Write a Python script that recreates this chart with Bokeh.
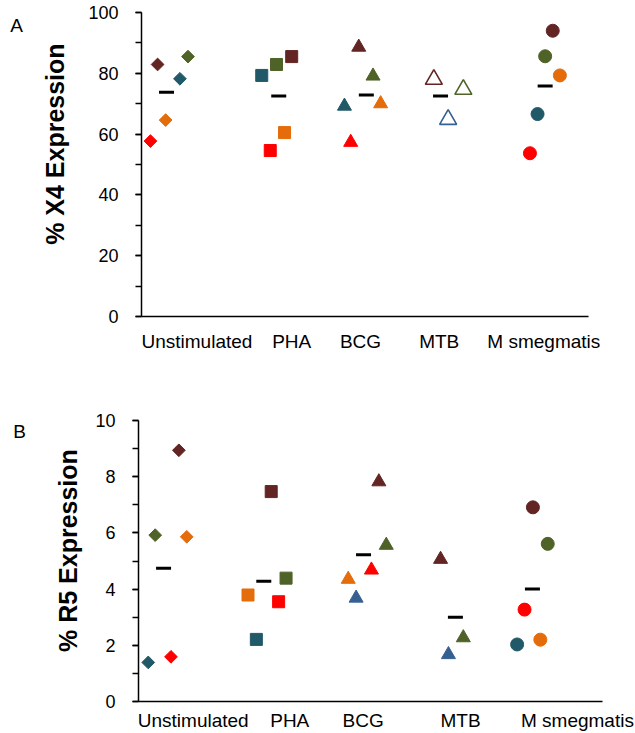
import numpy as np
from bokeh.plotting import figure
from bokeh.layouts import column, row
from bokeh.models import (ColumnDataSource, Range1d, FixedTicker,
                          SingleIntervalTicker, Label)
from bokeh.embed import file_html
from bokeh.resources import INLINE

# ---------------- data ----------------
groups = ["Unstimulated", "PHA", "BCG", "MTB", "M smegmatis"]
donors = ["red", "orange", "brown", "blue", "green"]

# % X4 expression (panel A), one list per donor, one value per group
x4_red = [57.7, 54.6, 57.3, np.nan, 53.7]
x4_orange = [64.6, 60.5, 70.0, np.nan, 79.3]
x4_brown = [82.9, 85.5, 88.6, 78.0, 94.0]
x4_blue = [78.2, 79.3, 69.2, 64.8, 66.6]
x4_green = [85.5, 82.9, 79.1, 74.7, 85.6]

# % R5 expression (panel B)
r5_red = [1.59, 3.55, 4.68, np.nan, 3.27]
r5_orange = [5.86, 3.79, 4.35, np.nan, 2.20]
r5_brown = [8.94, 7.47, 7.82, 5.06, 6.91]
r5_blue = [1.39, 2.21, 3.68, 1.67, 2.03]
r5_green = [5.92, 4.39, 5.56, 2.27, 5.61]

x4_ticks = [0, 20, 40, 60, 80, 100]
r5_ticks = [0, 2, 4, 6, 8, 10]

# ---------------- styles / layout ----------------
FONT = "Liberation Sans"
colors = {"red": "#ff0000", "orange": "#e46c0a", "brown": "#632523",
          "blue": "#215968", "green": "#4f6228"}
alt_blue = "#366092"

# horizontal jitter of each donor within its group (layout only)
jit_A = {"red": [-0.40, -0.06, -0.16, 0, -0.155],
         "orange": [-0.23, 0.10, 0.175, 0, 0.18],
         "brown": [-0.32, 0.18, -0.07, -0.23, 0.10],
         "blue": [-0.07, -0.155, -0.23, -0.07, -0.07],
         "green": [0.02, 0.01, 0.09, 0.10, 0.015]}
jit_A_mean = [-0.22, 0.035, 0.015, -0.155, 0.015]
lab_A = [0.62, 1.68, 2.45, 3.33, 4.50]

jit_B = {"red": [-0.15, 0.01, 0.01, 0, -0.34],
         "orange": [0.02, -0.32, -0.24, 0, -0.17],
         "brown": [-0.065, -0.07, 0.09, -0.245, -0.25],
         "blue": [-0.395, -0.23, -0.155, -0.16, -0.42],
         "green": [-0.32, 0.09, 0.17, 0.0, -0.09]}
jit_B_mean = [-0.23, -0.15, -0.075, -0.085, -0.255]
lab_B = [0.59, 1.63, 2.42, 3.47, 4.73]

# marker per group: (marker, angle, size, hollow)
mk_A = [("square", np.pi / 4, 9, False), ("square", 0, 12, False),
        ("triangle", 0, 14, False), ("triangle", 0, 17, True),
        ("circle", 0, 13, False)]
mk_B = [("square", np.pi / 4, 9, False), ("square", 0, 12, False),
        ("triangle", 0, 14, False), ("triangle", 0, 14, False),
        ("circle", 0, 13, False)]
blue_alt_groups_A = [3]
blue_alt_groups_B = [2, 3]

STRIP_W = 85
TOTAL_W = 635


def build_panel(series, jit, jit_mean, lab_pos, markers, blue_alt, ymax,
                tick_vals, height, borders, xstandoff, title, title_xy,
                letter, letter_xy):
    xs, ys, cols, mks, angs, sizes, falpha, lw = [], [], [], [], [], [], [], []
    for d in donors:
        vals = series[d]
        for gi, v in enumerate(vals):
            if np.isnan(v):
                continue
            m, a, s, hollow = markers[gi]
            c = colors[d]
            if d == "blue" and gi in blue_alt:
                c = alt_blue
            xs.append(gi + 0.5 + jit[d][gi])
            ys.append(v)
            cols.append(c)
            mks.append(m)
            angs.append(a)
            sizes.append(s)
            falpha.append(0.0 if hollow else 1.0)
            lw.append(1.6 if hollow else 1.0)
    src = ColumnDataSource(dict(x=xs, y=ys, color=cols, marker=mks, angle=angs,
                                size=sizes, fa=falpha, lw=lw))
    arr = np.array([series[d] for d in donors], dtype=float)
    means = np.nanmean(arr, axis=0)
    msrc = ColumnDataSource(dict(x=[i + 0.5 + jit_mean[i] for i in range(len(groups))],
                                 y=list(means)))

    bl, br, bt, bb = borders
    yr = Range1d(0, ymax)
    p = figure(width=TOTAL_W - STRIP_W, height=height, x_range=Range1d(0, 5),
               y_range=yr, output_backend="svg",
               toolbar_location=None, min_border_left=bl, min_border_right=br,
               min_border_top=bt, min_border_bottom=bb)
    p.outline_line_color = None
    p.grid.visible = False
    p.background_fill_color = "white"
    p.border_fill_color = "white"

    p.scatter("x", "y", source=src, marker="marker", angle="angle", size="size",
              fill_color="color", line_color="color", fill_alpha="fa",
              line_width="lw")
    p.scatter("x", "y", source=msrc, marker="dash", size=15, line_width=3,
              line_color="black")

    ya = p.yaxis[0]
    ya.ticker = SingleIntervalTicker(interval=tick_vals[1] - tick_vals[0],
                                     num_minor_ticks=2)
    ya.axis_line_width = 1.5
    ya.axis_line_color = "black"
    ya.major_tick_line_width = 1.5
    ya.minor_tick_line_width = 1.5
    ya.major_tick_out = 6
    ya.major_tick_in = 0
    ya.minor_tick_out = 6
    ya.minor_tick_in = 0
    ya.major_label_standoff = 17
    ya.major_label_text_font = FONT
    ya.major_label_text_font_size = "18px"
    ya.major_label_text_color = "black"

    xa = p.xaxis[0]
    xa.ticker = FixedTicker(ticks=lab_pos)
    xa.major_label_overrides = {lab_pos[i]: groups[i] for i in range(len(groups))}
    xa.axis_line_width = 1.5
    xa.axis_line_color = "black"
    xa.major_tick_out = 0
    xa.major_tick_in = 0
    xa.minor_tick_out = 0
    xa.minor_tick_in = 0
    xa.major_label_text_font = FONT
    xa.major_label_text_font_size = "19px"
    xa.major_label_text_color = "black"
    xa.major_label_standoff = xstandoff

    # left strip (shares the y range; its frame is aligned with the panel's)
    s = figure(width=STRIP_W, height=height, x_range=Range1d(0, 1), y_range=yr,
               output_backend="svg", toolbar_location=None,
               x_axis_location=None, y_axis_location=None,
               min_border_left=0, min_border_right=0,
               min_border_top=bt, min_border_bottom=bb)
    s.outline_line_color = None
    s.grid.visible = False
    s.background_fill_color = "white"
    s.border_fill_color = "white"
    s.add_layout(Label(x=title_xy[0], y=title_xy[1], text=title, angle=np.pi / 2,
                       text_align="center", text_baseline="middle",
                       text_font=FONT, text_font_style="bold",
                       text_font_size="25px", text_color="black"))
    s.add_layout(Label(x=letter_xy[0], y=letter_xy[1], text=letter,
                       text_align="center", text_baseline="middle",
                       text_font=FONT, text_font_size="19px", text_color="black"))
    return row(s, p, spacing=0)


series_A = {"red": x4_red, "orange": x4_orange, "brown": x4_brown,
            "blue": x4_blue, "green": x4_green}
series_B = {"red": r5_red, "orange": r5_orange, "brown": r5_brown,
            "blue": r5_blue, "green": r5_green}

rowA = build_panel(series_A, jit_A, jit_A_mean, lab_A, mk_A, blue_alt_groups_A,
                   x4_ticks[-1], x4_ticks, 370, (137 - STRIP_W, 47, 12, 54), 14,
                   "% X4 Expression", (54.5 / STRIP_W, 56.7),
                   "A", (16 / STRIP_W, 95.7))
rowB = build_panel(series_B, jit_B, jit_B_mean, lab_B, mk_B, blue_alt_groups_B,
                   r5_ticks[-1], r5_ticks, 363, (138 - STRIP_W, 33, 50, 30), 8,
                   "% R5 Expression", (67 / STRIP_W, 5.37),
                   "B", (19 / STRIP_W, 9.61))

layout = column(rowA, rowB, spacing=0)
open("out.html", "w").write(file_html(layout, INLINE))
